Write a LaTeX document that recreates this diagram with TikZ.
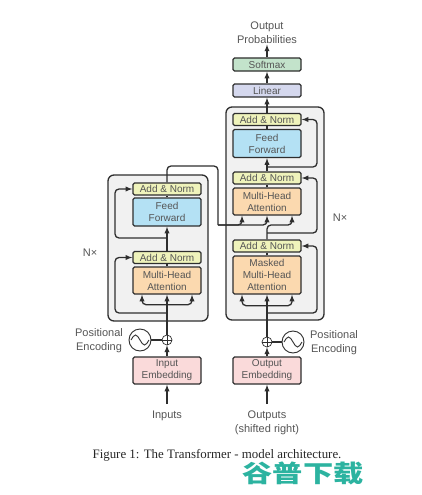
\documentclass[tikz,border=0pt]{standalone}
\usepackage{fontspec}
\setmainfont{Liberation Sans}
\newfontfamily\captionserif{Liberation Serif}
\newfontfamily\cjkmark{Noto Sans CJK SC}
\definecolor{linecol}{HTML}{2E2E2E}
\definecolor{txtcol}{HTML}{555555}
\definecolor{stackcol}{HTML}{F1F1F1}
\definecolor{normcol}{HTML}{EFF3BB}
\definecolor{ffcol}{HTML}{B4E1F4}
\definecolor{attcol}{HTML}{FBD9AF}
\definecolor{embcol}{HTML}{FADADA}
\definecolor{softcol}{HTML}{C3E3CB}
\definecolor{lincol}{HTML}{D5D8EE}
\definecolor{markcol}{HTML}{2CB3A0}
\begin{document}
\begin{tikzpicture}[x=1pt, y=-1pt, >=latex, line width=1.3pt, font=\fontsize{10}{12}\selectfont,
  stack/.style={draw=linecol, fill=stackcol, rounded corners=6pt, inner sep=0pt},
  block/.style={draw=linecol, rounded corners=1.5pt, align=center, minimum width=68pt, inner sep=0pt, text=txtcol},
  norm/.style={block, fill=normcol, minimum height=12pt},
  ffwd/.style={block, fill=ffcol, minimum height=28pt},
  attn/.style={block, fill=attcol, minimum height=27pt},
  embed/.style={block, fill=embcol, minimum height=27pt},
  label/.style={align=center, text=txtcol, inner sep=0pt, font=\fontsize{11}{14}\selectfont},
  wire/.style={draw=linecol, rounded corners=4pt},
  addsym/.style={draw=linecol, circle, minimum size=10pt, inner sep=0pt, line width=0.7pt},
  sinesym/.style={draw=linecol, circle, minimum size=22pt, inner sep=0pt, line width=0.9pt}]
\useasboundingbox (0,0) rectangle (421,495);
\node[stack, minimum width=100pt, minimum height=146pt] (encbox) at (158,248) {};
\node[stack, minimum width=98pt, minimum height=213pt]  (decbox) at (275,213.5) {};
% encoder
\node[embed] (inemb)  at (167,370.5) {Input\\Embedding};
\node[attn]  (encatt) at (167,280.5) {Multi-Head\\Attention};
\node[norm]  (encn1)  at (167,257.5) {Add \& Norm};
\node[ffwd]  (encff)  at (167,212)   {Feed\\Forward};
\node[norm]  (encn2)  at (167,189)   {Add \& Norm};
% decoder
\node[embed] (outemb) at (267,370.5) {Output\\Embedding};
\node[attn, minimum height=38pt] (decmask) at (267,275) {Masked\\Multi-Head\\Attention};
\node[norm]  (decn1)  at (267,246)   {Add \& Norm};
\node[attn]  (decatt) at (267,201.5) {Multi-Head\\Attention};
\node[norm]  (decn2)  at (267,178)   {Add \& Norm};
\node[ffwd]  (decff)  at (267,143.5) {Feed\\Forward};
\node[norm]  (decn3)  at (267,119.5) {Add \& Norm};
\node[block, fill=lincol, minimum height=13pt]  (linear)  at (267,90.5) {Linear};
\node[block, fill=softcol, minimum height=13pt] (softmax) at (267,64.5) {Softmax};
% positional encoding
\node[addsym]  (encadd) at (167,340) {};
\node[addsym]  (decadd) at (267,342) {};
\node[sinesym] (encpe)  at (140,340) {};
\node[sinesym] (decpe)  at (293,342) {};
\foreach \pe in {encpe, decpe}
  \draw[linecol, line width=0.9pt] ([xshift=-9pt]\pe.center) sin ++(4.5,-5) cos ++(4.5,5) sin ++(4.5,5) cos ++(4.5,-5);
\foreach \ad in {encadd, decadd} {
  \draw[linecol, line width=0.7pt] (\ad.north) -- (\ad.south);
  \draw[linecol, line width=0.7pt] (\ad.west) -- (\ad.east);
}
\draw[linecol] (encpe) -- (encadd);
\draw[linecol] (decpe) -- (decadd);
% labels
\node[label] (enclab) at (99,340.5) {Positional\\Encoding};
\node[label] (declab) at (334,342.5) {Positional\\Encoding};
\node[label] (inlab)  at (167,416)  {Inputs};
\node[label] (outlab) at (267,423)  {Outputs\\(shifted right)};
\node[label] (problab) at (267,33)  {Output\\Probabilities};
\node[label] (encnx)  at (90,253)   {N×};
\node[label] (decnx)  at (340,218)  {N×};
% tap points
\coordinate (intop)   at (167,404);
\coordinate (outtop)  at (267,404);
\coordinate (enctap1) at (167,313);
\coordinate (enctap2) at (167,238);
\coordinate (dectap1) at (267,313);
\coordinate (dectap2) at (267,233);
\coordinate (dectap3) at (267,167);
\coordinate (cross)   at (218,225);
% straight arrows
\draw[->, linecol] (intop) -- (inemb);
\draw[->, linecol] (outtop) -- (outemb);
\draw[->, linecol] (inemb) -- (encadd);
\draw[->, linecol] (outemb) -- (decadd);
\draw[->, linecol] (encadd) -- (encatt);
\draw[->, linecol] (decadd) -- (decmask);
\draw[linecol] (encatt) -- (encn1);
\draw[->, linecol] (encn1) -- (encff);
\draw[linecol] (encff) -- (encn2);
\draw[linecol] (decmask) -- (decn1);
\draw[linecol] (decatt) -- (decn2);
\draw[->, linecol] (decn2) -- (decff);
\draw[linecol] (decff) -- (decn3);
\draw[->, linecol] (decn3) -- (linear);
\draw[->, linecol] (linear) -- (softmax);
\draw[->, linecol] (softmax) -- (problab);
% attention forks
\draw[<->, wire] ([xshift=-25pt]encatt.south) -- ++(0,10) -- ++(50,0) -- ([xshift=25pt]encatt.south);
\draw[<->, wire] ([xshift=-25pt]decmask.south) -- ++(0,11) -- ++(50,0) -- ([xshift=25pt]decmask.south);
% residuals
\draw[->, wire] (enctap1) -- (115,313) -- (115,257.5) -- (encn1.west);
\draw[->, wire] (enctap2) -- (115,238) -- (115,189) -- (encn2.west);
\draw[->, wire] (dectap1) -- (317,313) -- (317,246) -- (decn1.east);
\draw[->, wire] (dectap2) -- (317,233) -- (317,178) -- (decn2.east);
\draw[->, wire] (dectap3) -- (317,167) -- (317,119.5) -- (decn3.east);
% encoder to decoder
\draw[wire] (encn2.north) -- (167,166) -- (218,166) -- (cross);
\draw[->, wire] (cross) -- (242,225) -- ([xshift=-25pt]decatt.south);
\draw[->, wire] (cross) -- (267,225) -- (decatt.south);
\draw[->, wire] (decn1.north) -- (267,225) -- (292,225) -- ([xshift=25pt]decatt.south);
% caption
\node[inner sep=0pt, text=black!85, font=\captionserif\fontsize{12.9}{14}\selectfont] (caption) at (217,455)
  {Figure 1: The Transformer - model architecture.};
\node[inner sep=0pt, text=markcol, xscale=1.26, transform shape, font=\cjkmark\bfseries\fontsize{24}{26}\selectfont] (wmark) at (303,473) {谷普下载};
\end{tikzpicture}
\end{document}
